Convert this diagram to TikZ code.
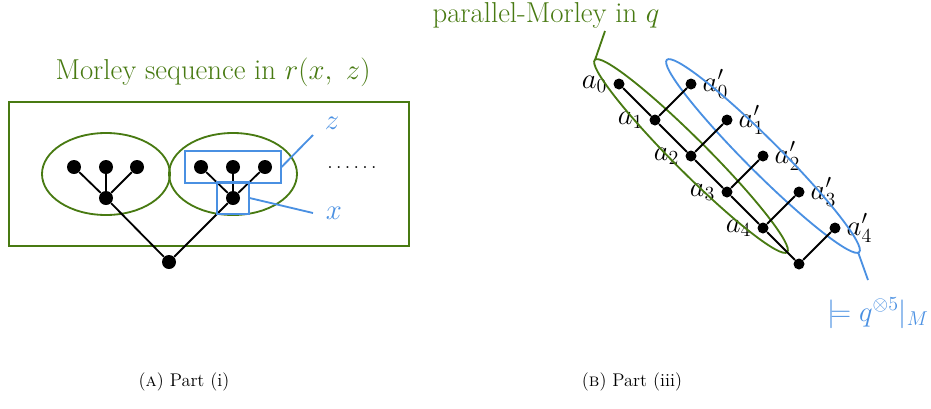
\RequirePackage{fix-cm}
\documentclass[tikz,border=0pt]{standalone}
\usepackage{xcolor}
\usepackage{tikz}
\usetikzlibrary{arrows.meta,positioning,fit}
\usepackage{amsmath,amssymb}
\definecolor{morleygreen}{RGB}{72,122,18}
\definecolor{typeblue}{RGB}{74,144,226}
\newcommand{\sixdots}{.\kern2pt.\kern2pt.\kern2pt.\kern2pt.\kern2pt.}

\begin{document}
\begin{tikzpicture}[
    x=0.6pt, y=-0.6pt,
    font=\fontsize{17.28}{21}\selectfont,
    bigdot/.style={circle, fill, inner sep=0pt, minimum size=8.4pt},
    smalldot/.style={circle, fill, inner sep=0pt, minimum size=6.6pt},
    edge/.style={line width=1.1pt},
    greenline/.style={draw=morleygreen, line width=1.1pt},
    blueline/.style={draw=typeblue, line width=1.1pt},
    bluebox/.style={blueline, inner sep=5pt},
    caption/.style={font=\fontsize{11}{13}\selectfont}
  ]
    \useasboundingbox (0,0) rectangle (931,408);

    % part (i)
    \node[text=morleygreen] (seqlab) at (213,72) {Morley sequence in $r(x,\ z)$};
    \draw[greenline] (9,102) rectangle (409,246);
    \draw[greenline] (106,174) ellipse [x radius=38.4pt, y radius=24.6pt];
    \draw[greenline] (233,174) ellipse [x radius=38.4pt, y radius=24.6pt];

    \node[bigdot] (l1) at (74,167) {};
    \node[bigdot] (l2) at (106,167) {};
    \node[bigdot] (l3) at (137,167) {};
    \node[bigdot] (lc) at (106,198) {};
    \node[bigdot] (r1) at (201,167) {};
    \node[bigdot] (r2) at (233,167) {};
    \node[bigdot] (r3) at (265,167) {};
    \node[bigdot] (rc) at (233,198) {};
    \node[bigdot] (root) at (169,262) {};

    \foreach \leaf in {l1,l2,l3} \draw[edge] (\leaf) -- (lc);
    \foreach \leaf in {r1,r2,r3} \draw[edge] (\leaf) -- (rc);
    \draw[edge] (lc) -- (root);
    \draw[edge] (rc) -- (root);

    \node[bluebox, fit=(r1)(r3)] (zbox) {};
    \node[bluebox, fit=(rc)] (xbox) {};
    \node[text=typeblue] (zlab) at (332,123) {$z$};
    \node[text=typeblue] (xlab) at (334,213) {$x$};
    \coordinate (zend) at (313,135);
    \coordinate (xend) at (313,213);
    \draw[blueline] (zbox.east) -- (zend);
    \draw[blueline] (xbox.east) -- (xend);
    \node[anchor=base, inner sep=0pt, font=\fontsize{12}{14}\selectfont] (more) at (352,168) {\sixdots};

    % part (iii)
    \foreach \i in {0,...,4} {
      \node[smalldot, label={left:$a_{\i}$}] (a\i) at (619+36*\i, 84+36*\i) {};
      \node[smalldot, label={right:$a'_{\i}$}] (p\i) at (691+36*\i, 84+36*\i) {};
    }
    \node[smalldot] (last) at (799,264) {};

    \draw[greenline, rotate around={-45:(a2)}] (a2) ellipse [x radius=81.6pt, y radius=10pt];
    \draw[blueline, rotate around={-45:(p2)}] (p2) ellipse [x radius=81.6pt, y radius=10pt];

    \foreach \i [evaluate=\i as \j using int(\i+1)] in {0,...,3} {
      \draw[edge] (a\i) -- (a\j);
      \draw[edge] (p\i) -- (a\j);
    }
    \draw[edge] (a4) -- (last);
    \draw[edge] (p4) -- (last);

    \node[text=morleygreen] (pmlab) at (546,15) {parallel-Morley in $q$};
    \coordinate (gtip) at (595,60);
    \coordinate (gend) at (605,31);
    \draw[greenline] (gtip) -- (gend);

    \node[text=typeblue] (typelab) at (878,313) {$\models q^{\otimes 5}|_M$};
    \coordinate (btip) at (858,252);
    \coordinate (bend) at (868,280);
    \draw[blueline] (btip) -- (bend);

    % captions
    \node[caption] (capA) at (184,382) {(\textsc{a}) Part (i)};
    \node[caption] (capB) at (632,382) {(\textsc{b}) Part (iii)};
  \end{tikzpicture}
\end{document}
